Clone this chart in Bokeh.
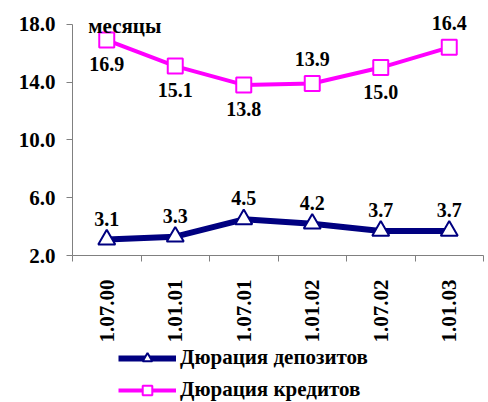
import numpy as np
from bokeh.plotting import figure
from bokeh.layouts import column
from bokeh.models import (Range1d, FixedTicker, LinearAxis, Legend, LegendItem,
                          ColumnDataSource, Label, NumeralTickFormatter)
from bokeh.core.properties import value
from bokeh.embed import file_html
from bokeh.resources import INLINE

categories = ["1.07.00", "1.01.01", "1.07.01", "1.01.02", "1.07.02", "1.01.03"]
deposits = [3.1, 3.3, 4.5, 4.2, 3.7, 3.7]
credits = [16.9, 15.1, 13.8, 13.9, 15.0, 16.4]
credit_label_pos = ["below", "below", "below", "above", "below", "above"]
y_ticks = [2, 6, 10, 14, 18]
unit_label = "месяцы"
dep_name = "Дюрация депозитов"
cred_name = "Дюрация кредитов"

FONT = "Liberation Serif"
FS = "20px"
NAVY = "#000080"
MAG = "#FF00FF"

xs = [i + 0.5 for i in range(len(categories))]

p = figure(width=488, height=345, output_backend="svg", toolbar_location=None,
           x_range=Range1d(0, len(categories)), y_range=Range1d(2, 19.5),
           x_axis_location=None, y_axis_location=None)
p.min_border_left = 72
p.min_border_right = 5
p.min_border_top = 2
p.min_border_bottom = 88
p.outline_line_color = None
p.xgrid.visible = False
p.ygrid.visible = False
p.background_fill_color = "white"
p.border_fill_color = "white"

# y axis
yax = LinearAxis(ticker=FixedTicker(ticks=y_ticks), bounds=(2, 18),
                 formatter=NumeralTickFormatter(format="0.0"))
yax.axis_line_color = "#808080"
yax.major_tick_line_color = "#808080"
yax.major_tick_in = 0
yax.major_tick_out = 6
yax.minor_tick_line_color = None
yax.major_label_text_font = FONT
yax.major_label_text_font_style = "bold"
yax.major_label_text_font_size = "21px"
yax.major_label_text_color = "black"
yax.major_label_standoff = 11
p.add_layout(yax, "left")

# x axis with boundary ticks
xax1 = LinearAxis(ticker=FixedTicker(ticks=list(range(len(categories) + 1))),
                  major_label_overrides={i: "" for i in range(len(categories) + 1)})
xax1.axis_line_color = "#808080"
xax1.major_tick_line_color = "#808080"
xax1.major_tick_in = 0
xax1.major_tick_out = 6
xax1.minor_tick_line_color = None
xax1.major_label_text_font_size = "1px"
xax1.major_label_standoff = 0
p.add_layout(xax1, "below")

# x labels axis
xax2 = LinearAxis(ticker=FixedTicker(ticks=xs),
                  major_label_overrides={x: c for x, c in zip(xs, categories)})
xax2.axis_line_color = None
xax2.major_tick_line_color = None
xax2.minor_tick_line_color = None
xax2.major_label_orientation = np.pi / 2
xax2.major_label_text_font = FONT
xax2.major_label_text_font_style = "bold"
xax2.major_label_text_font_size = "21px"
xax2.major_label_text_color = "black"
xax2.major_label_standoff = 12
p.add_layout(xax2, "below")

# series
dsrc = ColumnDataSource(dict(x=xs, y=deposits, t=["%.1f" % v for v in deposits],
                             off=[-21] * len(deposits)))
csrc = ColumnDataSource(dict(x=xs, y=credits, t=["%.1f" % v for v in credits],
                             off=[24 if s == "below" else -24 for s in credit_label_pos]))

LS1 = dict(line_color=NAVY, line_width=6)
MS1 = dict(marker="triangle", size=17, fill_color="white", line_color=NAVY, line_width=2)
LS2 = dict(line_color=MAG, line_width=4)
MS2 = dict(marker="square", size=15, fill_color="white", line_color=MAG, line_width=2)

p.line("x", "y", source=dsrc, **LS1)
p.scatter("x", "y", source=dsrc, **MS1)
p.line("x", "y", source=csrc, **LS2)
p.scatter("x", "y", source=csrc, **MS2)

for src in (dsrc, csrc):
    p.text("x", "y", text="t", source=src, y_offset="off",
           text_align="center", text_baseline="middle",
           text_font=value(FONT), text_font_style="bold",
           text_font_size=FS, text_color="black")

p.add_layout(Label(x=0.23, y=17.9, text=unit_label, text_font=FONT,
                   text_font_style="bold", text_font_size="21px",
                   text_baseline="middle", text_align="left", text_color="black"))

# legend figure (series drawn out of view; only the legend shows)
p2 = figure(width=488, height=57, output_backend="svg", toolbar_location=None,
            x_axis_location=None, y_axis_location=None,
            x_range=Range1d(0, len(categories)), y_range=Range1d(100, 101))
p2.min_border_left = 72
p2.min_border_right = 5
p2.min_border_top = 0
p2.min_border_bottom = 0
p2.outline_line_color = None
p2.xgrid.visible = False
p2.ygrid.visible = False
g1 = p2.line("x", "y", source=dsrc, **LS1)
h1 = p2.scatter("x", "y", source=dsrc, **MS1)
g2 = p2.line("x", "y", source=csrc, **LS2)
h2 = p2.scatter("x", "y", source=csrc, **MS2)

legend = Legend(items=[LegendItem(label=dep_name, renderers=[g1, h1]),
                       LegendItem(label=cred_name, renderers=[g2, h2])],
                location=(46, 0), orientation="vertical")
legend.border_line_color = None
legend.background_fill_alpha = 0
legend.padding = 0
legend.margin = 0
legend.spacing = 7
legend.glyph_width = 58
legend.glyph_height = 24
legend.label_height = 24
legend.label_standoff = 4
legend.label_text_font = FONT
legend.label_text_font_style = "bold"
legend.label_text_font_size = "21px"
legend.label_text_color = "black"
p2.add_layout(legend, "center")

layout = column(p, p2, spacing=0)
open("out.html", "w").write(file_html(layout, INLINE))
